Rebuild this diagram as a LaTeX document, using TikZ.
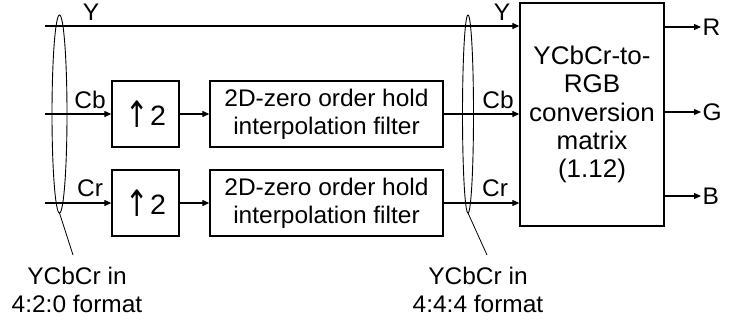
\documentclass[tikz,border=0pt]{standalone}
\usepackage{fontspec}
\setmainfont[FakeStretch=1.02]{Liberation Sans}
\newfontfamily\arrowfont{DejaVu Sans}
\usetikzlibrary{arrows.meta}
\newcommand{\uptwo}{{\fontsize{28}{28}\selectfont\raisebox{-2pt}{\scalebox{1.0}[1.3]{\arrowfont ↑}}\kern1.5pt2}}
\begin{document}
\begin{tikzpicture}[x=1pt,y=-1pt,line width=1.1pt,
  every node/.style={font=\fontsize{24}{28}\selectfont},
  blk/.style={draw,line width=1.3pt,inner sep=0pt,align=center},
  arr/.style={-{Triangle[length=7pt,width=6pt]}},
  lbl/.style={inner sep=0pt,anchor=base}]
\useasboundingbox (0,0) rectangle (730,324);
% blocks
\node[blk,minimum width=144pt,minimum height=223pt,font=\fontsize{25.5}{28.3}\selectfont] (M) at (592,114.5)
  {YCbCr-to-\\RGB\\conversion\\matrix\\(1.12)};
\node[blk,minimum width=67pt,minimum height=66pt] (U1) at (145.5,114) {\uptwo};
\node[blk,minimum width=67pt,minimum height=66pt] (U2) at (145.5,203) {\uptwo};
\node[blk,minimum width=233pt,minimum height=66pt] (F1) at (326.5,114) {2D-zero order hold\\interpolation filter};
\node[blk,minimum width=233pt,minimum height=66pt] (F2) at (326.5,203) {2D-zero order hold\\interpolation filter};
% start points
\coordinate (sY) at (45,26);
\coordinate (sCb) at (45,114);
\coordinate (sCr) at (45,203);
% connectors
\draw[arr] (sY) -- (sY -| M.west);
\draw[arr] (sCb) -- (U1.west);
\draw[arr] (sCr) -- (U2.west);
\draw[arr] (U1.east) -- (F1.west);
\draw[arr] (U2.east) -- (F2.west);
\draw[arr] (F1.east) -- (F1.east -| M.west);
\draw[arr] (F2.east) -- (F2.east -| M.west);
% outputs
\coordinate (oR) at (701,27);
\coordinate (oG) at (701,112);
\coordinate (oB) at (701,196);
\draw[arr] (oR -| M.east) -- (oR);
\draw[arr] (oG -| M.east) -- (oG);
\draw[arr] (oB -| M.east) -- (oB);
\node[anchor=west,inner sep=1pt] (lR) at (oR) {R};
\node[anchor=west,inner sep=1pt] (lG) at (oG) {G};
\node[anchor=west,inner sep=1pt] (lB) at (oB) {B};
% signal labels
\node[lbl] (tY1) at (91,20) {Y};
\node[lbl] (tCb1) at (90,108) {Cb};
\node[lbl] (tCr1) at (90,196) {Cr};
\node[lbl] (tY2) at (502,20) {Y};
\node[lbl] (tCb2) at (498,108) {Cb};
\node[lbl] (tCr2) at (495,196) {Cr};
% ellipses
\draw[line width=0.9pt] (59.5,114) ellipse [x radius=7.5, y radius=99];
\draw[line width=0.9pt] (468,114) ellipse [x radius=5.5, y radius=99];
\coordinate (e1b) at (59.5,213);
\coordinate (e2b) at (468,213);
\coordinate (l1) at (73,255);
\coordinate (l2) at (487,255);
\draw[line width=0.8pt] (e1b) -- (l1);
\draw[line width=0.8pt] (e2b) -- (l2);
\node[align=center,inner sep=0pt] (f1) at (77,290) {YCbCr in\\4:2:0 format};
\node[align=center,inner sep=0pt] (f2) at (478,290) {YCbCr in\\4:4:4 format};
\end{tikzpicture}
\end{document}
